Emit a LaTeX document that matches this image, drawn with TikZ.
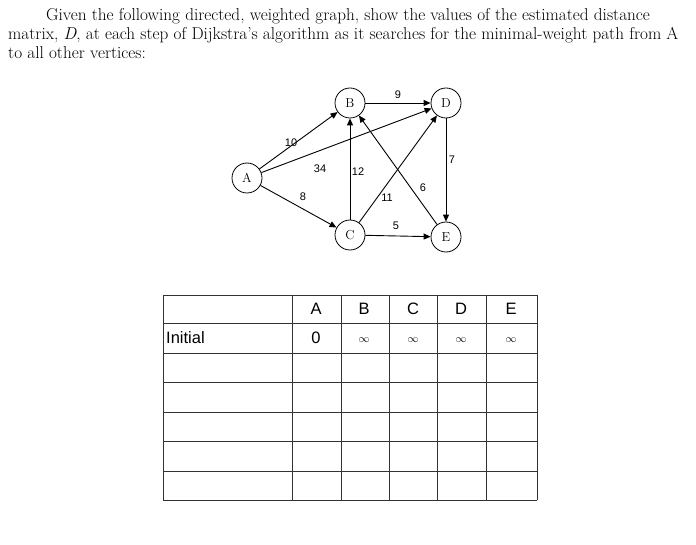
\documentclass[tikz,border=0pt]{standalone}
\usepackage{fontspec}
\newfontfamily\lsans{Liberation Sans}
\usetikzlibrary{arrows.meta}
\begin{document}
\begin{tikzpicture}[x=1pt,y=-1pt,
 vert/.style={circle,draw,line width=0.8pt,minimum size=30pt,inner sep=0pt,font=\fontsize{13}{15}\selectfont},
 edge/.style={-{Triangle[length=7pt,width=6pt]},line width=0.9pt},
 wlab/.style={font=\lsans\fontsize{11}{13}\selectfont,inner sep=0pt},
 para/.style={anchor=base west,inner sep=0pt,font=\fontsize{17.2}{19}\selectfont},
 cell/.style={font=\lsans\fontsize{16.5}{19}\selectfont,inner sep=0pt},
 inf/.style={font=\fontsize{11}{13}\selectfont,inner sep=0pt},
 grid/.style={line width=0.8pt,draw=black!80}]
\useasboundingbox (0,0) rectangle (696,545);
\node[para] (l1) at (46,21) {Given the following directed, weighted graph, show the values of the estimated distance};
\node[para] (l2) at (8,40) {matrix, \textit{D}, at each step of Dijkstra's algorithm as it searches for the minimal-weight path from A};
\node[para] (l3) at (8,59) {to all other vertices:};
\node[vert] (A) at (247,178) {A};
\node[vert] (B) at (350,103) {B};
\node[vert] (D) at (446,103) {D};
\node[vert] (C) at (350,235) {C};
\node[vert] (E) at (446,237) {E};
\draw[edge] (A) -- (B);
\draw[edge] (A) -- (D);
\draw[edge] (A) -- (C);
\draw[edge] (B) -- (D);
\draw[edge] (C) -- (B);
\draw[edge] (C) -- (D);
\draw[edge] (E) -- (B);
\draw[edge] (D) -- (E);
\draw[edge] (C) -- (E);
\node[wlab] (w1) at (291,143) {10};
\node[wlab] (w2) at (320,169) {34};
\node[wlab] (w3) at (303,197) {8};
\node[wlab] (w4) at (358,172) {12};
\node[wlab] (w5) at (387,198) {11};
\node[wlab] (w6) at (423,188) {6};
\node[wlab] (w7) at (398,95) {9};
\node[wlab] (w8) at (452,160) {7};
\node[wlab] (w9) at (396,226) {5};
% table
\foreach \y in {295,323,353,382,412,441,471,500} \draw[grid] (163,\y) -- (537,\y);
\foreach \x in {163,292,341,389,437,486,537} \draw[grid] (\x,295) -- (\x,500);
\node[cell] (hA) at (316,309) {A};
\node[cell] (hB) at (364,309) {B};
\node[cell] (hC) at (413,309) {C};
\node[cell] (hD) at (461,309) {D};
\node[cell] (hE) at (511,309) {E};
\node[cell,anchor=west] (ini) at (166,338) {Initial};
\node[cell] (vA) at (316,338) {0};
\node[inf] (vB) at (364,340) {$\infty$};
\node[inf] (vC) at (413,340) {$\infty$};
\node[inf] (vD) at (461,340) {$\infty$};
\node[inf] (vE) at (511,340) {$\infty$};
\end{tikzpicture}
\end{document}
